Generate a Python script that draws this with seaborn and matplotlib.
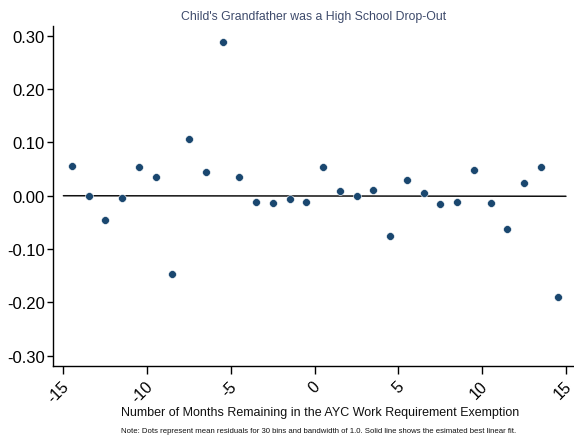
import pandas as pd
import matplotlib
matplotlib.use("Agg")
import matplotlib.pyplot as plt
import matplotlib.transforms as mtransforms
import seaborn as sns
from matplotlib.ticker import FormatStrFormatter

# bin midpoints (months remaining) and mean residuals
meses = [-14.5, -13.5, -12.5, -11.5, -10.5, -9.5, -8.5, -7.5, -6.5, -5.5,
         -4.5, -3.5, -2.5, -1.5, -0.5, 0.5, 1.5, 2.5, 3.5, 4.5,
         5.5, 6.5, 7.5, 8.5, 9.5, 10.5, 11.5, 12.5, 13.5, 14.5]
residuales = [0.056, 0.000, -0.046, -0.004, 0.053, 0.036, -0.146, 0.107, 0.045, 0.289,
              0.036, -0.011, -0.014, -0.006, -0.011, 0.054, 0.008, 0.000, 0.011, -0.076,
              0.029, 0.006, -0.015, -0.011, 0.049, -0.013, -0.062, 0.023, 0.053, -0.190]

# fitted linear line endpoints
ajuste_x = [-15, 15]
ajuste_y = [0.0, -0.001]

y_ticks = [0.30, 0.20, 0.10, 0.00, -0.10, -0.20, -0.30]
x_ticks = [-15, -10, -5, 0, 5, 10, 15]


def generar_grafico():
    sns.set_theme(style="ticks")
    plt.rcParams['font.family'] = ['Liberation Sans', 'DejaVu Sans']
    plt.rcParams['axes.unicode_minus'] = False

    df = pd.DataFrame({'Meses': meses, 'Residual': residuales})
    ajuste = pd.DataFrame({'x': ajuste_x, 'y': ajuste_y})

    fig = plt.figure(figsize=(5.74, 4.39), dpi=100)
    ax = fig.add_axes([53 / 574, 1 - 366.7 / 439, 520 / 574, (366.7 - 27.3) / 439])

    sns.lineplot(data=ajuste, x='x', y='y', color='#111111', linewidth=1.1, ax=ax)
    sns.scatterplot(data=df, x='Meses', y='Residual', color='#1a476f', s=32,
                    edgecolor='white', linewidth=0.4, ax=ax, zorder=3)

    ax.set_xlim(-15.62, 15.42)
    ax.set_ylim(-0.319, 0.318)
    ax.set_yticks(y_ticks)
    ax.yaxis.set_major_formatter(FormatStrFormatter('%.2f'))
    ax.set_xticks(x_ticks)
    ax.set_xticklabels([str(t) for t in x_ticks], rotation=45, ha='right',
                       va='center', rotation_mode='anchor')

    ax.tick_params(axis='y', labelsize=12, length=4, width=1, color='black',
                   labelcolor='black', pad=2)
    ax.tick_params(axis='x', labelsize=11.5, length=6, width=1, color='black',
                   labelcolor='black', pad=4)

    # shift rotated x labels so their end sits just right of the tick
    desplazamiento = mtransforms.ScaledTranslation(2 / 72, -3 / 72, fig.dpi_scale_trans)
    for etiqueta in ax.get_xticklabels():
        etiqueta.set_transform(etiqueta.get_transform() + desplazamiento)

    sns.despine(ax=ax)
    for lado in ['left', 'bottom']:
        ax.spines[lado].set_color('black')
        ax.spines[lado].set_linewidth(1)

    ax.set_xlabel("")
    ax.set_ylabel("")

    fig.text(314 / 574, 1 - 17 / 439, "Child's Grandfather was a High School Drop-Out",
             ha='center', va='center', fontsize=8.8, color='#3d4a6b')
    fig.text(320 / 574, 1 - 413 / 439,
             "Number of Months Remaining in the AYC Work Requirement Exemption",
             ha='center', va='center', fontsize=9, color='#111111')
    fig.text(319 / 574, 1 - 432 / 439,
             "Note: Dots represent mean residuals for 30 bins and bandwidth of 1.0. "
             "Solid line shows the esimated best linear fit.",
             ha='center', va='center', fontsize=5.6, color='#111111')

    fig.savefig("out.png", dpi=100)


def main():
    generar_grafico()


if __name__ == "__main__":
    main()
